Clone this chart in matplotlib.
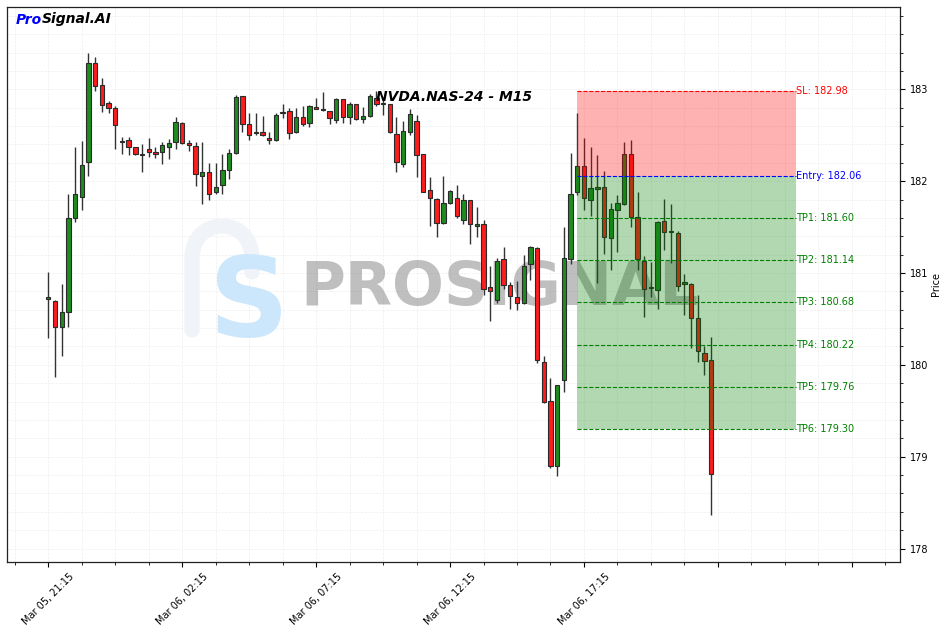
import matplotlib
matplotlib.use("Agg")
import matplotlib.pyplot as plt
from matplotlib.ticker import MultipleLocator, FixedLocator, FixedFormatter
from matplotlib.path import Path
from matplotlib.patches import PathPatch
import numpy as np

# ---------------- data ----------------
opens = [180.72, 180.70, 180.41, 180.57, 181.60, 181.83, 182.21, 183.29, 183.05, 182.85,
         182.80, 182.43, 182.45, 182.37, 182.29, 182.345, 182.32, 182.32, 182.37, 182.43,
         182.63, 182.42, 182.38, 182.06, 182.10, 181.88, 181.96, 182.12, 182.31, 182.93,
         182.62, 182.525, 182.53, 182.475, 182.45, 182.745, 182.76, 182.53, 182.70, 182.63,
         182.81, 182.79, 182.76, 182.67, 182.89, 182.70, 182.845, 182.68, 182.71, 182.90,
         182.835, 182.835, 182.51, 182.19, 182.54, 182.66, 182.29, 181.90, 181.81, 181.54,
         181.76, 181.82, 181.58, 181.80, 181.51, 181.53, 180.845, 180.71, 181.15, 180.87,
         180.74, 180.67, 181.10, 181.27, 180.03, 179.605, 178.895, 179.83, 181.15, 181.88,
         182.17, 181.80, 181.91, 181.94, 181.38, 181.69, 181.75, 182.30, 181.605, 181.13,
         180.84, 180.82, 181.57, 181.445, 181.43, 180.88, 180.88, 180.51, 180.13, 180.05]
highs = [181.01, 180.71, 180.88, 181.86, 182.37, 182.44, 183.39, 183.35, 183.12, 182.87,
         182.82, 182.48, 182.48, 182.37, 182.40, 182.475, 182.37, 182.43, 182.46, 182.70,
         182.64, 182.45, 182.43, 182.43, 182.20, 182.20, 182.30, 182.345, 182.935, 182.93,
         182.74, 182.74, 182.71, 182.54, 182.74, 182.84, 182.80, 182.80, 182.82, 182.83,
         182.90, 182.975, 182.76, 182.91, 182.89, 182.86, 182.845, 182.81, 182.95, 182.98,
         182.90, 182.835, 182.70, 182.66, 182.79, 182.72, 182.29, 182.04, 181.82, 182.06,
         181.90, 181.96, 181.855, 181.80, 181.72, 181.58, 181.08, 181.16, 181.28, 180.90,
         180.91, 181.20, 181.29, 181.28, 180.10, 179.855, 179.78, 181.50, 182.31, 182.74,
         182.47, 182.37, 182.28, 182.105, 181.76, 181.845, 182.43, 182.45, 181.88, 181.19,
         181.12, 181.57, 181.81, 181.75, 181.46, 180.99, 180.89, 180.76, 180.20, 180.30]
lows = [180.29, 179.87, 180.10, 180.41, 181.56, 181.69, 182.06, 182.98, 182.75, 182.74,
        182.35, 182.30, 182.28, 182.28, 182.10, 182.26, 182.25, 182.19, 182.24, 182.35,
        182.40, 182.33, 181.95, 181.75, 181.79, 181.86, 181.855, 182.02, 182.29, 182.54,
        182.45, 182.50, 182.49, 182.40, 182.44, 182.69, 182.46, 182.52, 182.60, 182.585,
        182.78, 182.76, 182.62, 182.63, 182.63, 182.62, 182.67, 182.63, 182.70, 182.815,
        182.725, 182.52, 182.10, 182.15, 182.50, 182.04, 181.877, 181.51, 181.39, 181.53,
        181.75, 181.60, 181.53, 181.32, 181.39, 180.76, 180.475, 180.67, 180.83, 180.605,
        180.595, 180.66, 180.92, 180.02, 179.59, 178.88, 178.79, 179.70, 181.10, 181.85,
        181.69, 181.62, 180.89, 181.21, 181.03, 181.225, 181.74, 181.50, 181.03, 180.52,
        180.74, 180.605, 181.25, 181.105, 180.80, 180.54, 180.18, 180.03, 179.89, 178.37]
closes = [180.74, 180.41, 180.57, 181.60, 181.86, 182.18, 183.29, 183.04, 182.83, 182.80,
          182.61, 182.44, 182.37, 182.29, 182.285, 182.32, 182.29, 182.39, 182.42, 182.64,
          182.42, 182.39, 182.08, 182.10, 181.86, 181.94, 182.12, 182.31, 182.92, 182.62,
          182.50, 182.53, 182.50, 182.45, 182.725, 182.75, 182.52, 182.70, 182.62, 182.82,
          182.79, 182.77, 182.69, 182.89, 182.70, 182.845, 182.68, 182.71, 182.93, 182.84,
          182.855, 182.54, 182.21, 182.55, 182.73, 182.28, 181.88, 181.82, 181.54, 181.76,
          181.89, 181.62, 181.80, 181.53, 181.53, 180.83, 180.80, 181.13, 180.87, 180.75,
          180.67, 181.08, 181.28, 180.05, 179.60, 178.895, 179.78, 181.16, 181.855, 182.17,
          181.82, 181.92, 181.94, 181.39, 181.70, 181.76, 182.30, 181.605, 181.15, 180.83,
          180.835, 181.56, 181.45, 181.455, 180.86, 180.90, 180.51, 180.15, 180.04, 178.81]

tick_positions = [0, 20, 40, 60, 80, 100, 120]
tick_labels = ["Mar 05, 21:15", "Mar 06, 02:15", "Mar 06, 07:15",
               "Mar 06, 12:15", "Mar 06, 17:15", "", ""]

signal_start = 79
signal_end = 111.7
sl_price = 182.98
entry_price = 182.06
tp_names = ["TP1", "TP2", "TP3", "TP4", "TP5", "TP6"]
tp_prices = [181.60, 181.14, 180.68, 180.22, 179.76, 179.30]

title = "NVDA.NAS-24 - M15"

# ---------------- figure ----------------
W, H = 947, 632
fig = plt.figure(figsize=(W / 100, H / 100), dpi=100)
ax = fig.add_axes([7 / W, (H - 561.7) / H, 893 / W, 555 / H])

o = np.array(opens); h = np.array(highs); l = np.array(lows); c = np.array(closes)
x = np.arange(len(o))
up = c >= o
green = "#1e8c1e"
red = "#ff1c1c"
cols = [green if u else red for u in up]

# watermark (behind candles): faint "P" outline stroke in figure-inch coordinates
def px(xp, yp):
    return (xp / 100, (H - yp) / 100)

verts = [px(192, 330), px(192, 258), px(192, 238), px(206, 226), px(222, 226),
         px(240, 226), px(252, 240), px(252, 258), px(252, 272)]
codes = [Path.MOVETO, Path.LINETO, Path.CURVE4, Path.CURVE4, Path.CURVE4,
         Path.CURVE4, Path.CURVE4, Path.CURVE4, Path.LINETO]
ppatch = PathPatch(Path(verts, codes), transform=fig.dpi_scale_trans, fill=False,
                   edgecolor="#f0f4f8", linewidth=11, capstyle="round", zorder=1)
ax.add_artist(ppatch)
ppatch.set_clip_on(False)

ax.text(0.271, 0.462, "S", transform=ax.transAxes, fontsize=80, fontweight="bold",
        color="#cce7fb", ha="center", va="center", zorder=1)
ax.text(0.551, 0.493, "PROSIGNAL", transform=ax.transAxes, fontsize=44, fontweight="bold",
        color="gray", alpha=0.5, ha="center", va="center", zorder=1)

# candles
ax.vlines(x, l, h, color="#333333", linewidth=1.0, zorder=2)
bottoms = np.minimum(o, c)
heights = np.maximum(np.abs(c - o), 0.012)
ax.bar(x, heights, bottom=bottoms, width=0.65, color=cols, edgecolor="#2b2b2b",
       linewidth=0.8, zorder=3)

# signal zones
ax.fill_between([signal_start, signal_end], entry_price, sl_price, color="red",
                alpha=0.3, linewidth=0, zorder=4)
ax.fill_between([signal_start, signal_end], tp_prices[-1], entry_price, color="green",
                alpha=0.3, linewidth=0, zorder=4)

ax.hlines(sl_price, signal_start, signal_end, colors="red", linestyles="--", linewidth=0.8, zorder=5)
ax.hlines(entry_price, signal_start, signal_end, colors="blue", linestyles="--", linewidth=0.8, zorder=5)
ax.hlines(tp_prices, signal_start, signal_end, colors="green", linestyles="--", linewidth=0.8, zorder=5)

ax.text(signal_end, sl_price, f"SL: {sl_price:.2f}", color="red", fontsize=7,
        ha="left", va="center", zorder=6)
ax.text(signal_end, entry_price, f"Entry: {entry_price:.2f}", color="blue", fontsize=7,
        ha="left", va="center", zorder=6)
for name, p in zip(tp_names, tp_prices):
    ax.text(signal_end, p, f"{name}: {p:.2f}", color="green", fontsize=7,
            ha="left", va="center", zorder=6)

# axes styling
ax.set_xlim(-6.17, 127.2)
ax.set_ylim(177.857, 183.899)
ax.yaxis.tick_right()
ax.yaxis.set_label_position("right")
ax.set_ylabel("Price", fontsize=7, labelpad=2)
ax.yaxis.set_major_locator(MultipleLocator(1))
ax.yaxis.set_minor_locator(MultipleLocator(0.2))
ax.xaxis.set_major_locator(FixedLocator(tick_positions))
ax.xaxis.set_major_formatter(FixedFormatter(tick_labels))
ax.xaxis.set_minor_locator(MultipleLocator(5))
ax.tick_params(axis="both", which="major", labelsize=7)
for lbl in ax.get_xticklabels():
    lbl.set_rotation(45)
    lbl.set_ha("center")
ax.set_axisbelow(True)
ax.grid(True, which="both", color="#eeeeee", linestyle="--", linewidth=0.5)
for s in ax.spines.values():
    s.set_color("#222222")
    s.set_linewidth(0.9)

ax.text(0.5, 0.838, title, transform=ax.transAxes, fontsize=10, fontweight="bold",
        style="italic", ha="center", va="center", zorder=7)

# brand text: "Pro" in blue followed by "Signal.AI" in black on the same baseline
base_y = 1 - 23.5 / H
t1 = fig.text(16 / W, base_y, "Pro", color="blue", fontsize=10,
              fontweight="bold", style="italic", ha="left", va="baseline")
renderer = fig.canvas.get_renderer()
bb = t1.get_window_extent(renderer=renderer)
fig.text(bb.x1 / (W), base_y, "Signal.AI", color="black", fontsize=10,
         fontweight="bold", style="italic", ha="left", va="baseline")

fig.savefig("out.png", dpi=100)
